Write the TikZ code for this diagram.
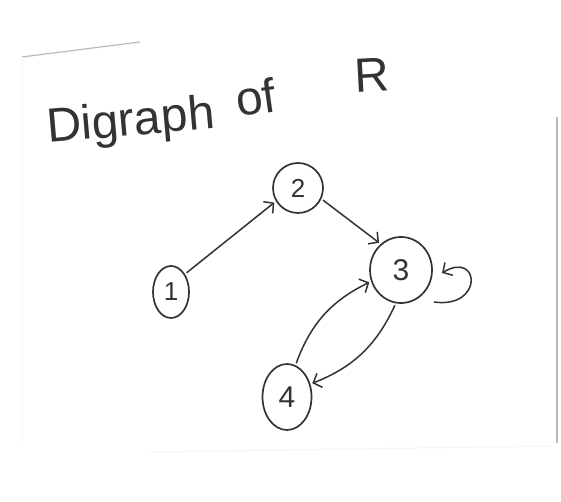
\documentclass[tikz,border=0pt]{standalone}
\usepackage{fontspec}
\setmainfont{Liberation Sans}
\usetikzlibrary{shapes.geometric,arrows.meta}
\definecolor{pencil}{HTML}{333333}
\tikzset{
  vert/.style={draw=pencil, line width=1.7pt, ellipse, inner sep=0pt, text=pencil,
    font=\fontsize{26}{26}\selectfont},
  arc/.style={draw=pencil, line width=1.5pt, shorten <=2pt, shorten >=2pt,
    -{Straight Barb[length=7pt,width=15pt,line width=1.5pt]}},
  title/.style={text=pencil, inner sep=0pt, anchor=base west,
    font=\fontsize{48}{48}\selectfont},
  paperedge/.style={draw=gray!55, line width=1.2pt}
}
\begin{document}
\begin{tikzpicture}[x=1pt,y=1pt]
\useasboundingbox (0,0) rectangle (561,502);
\fill[white] (0,0) rectangle (561,502);
% paper edges
\draw[paperedge] (22,445) -- (140,460);
\draw[draw=gray!8, line width=1pt] (22,445) -- (22,60);
\draw[paperedge, line width=1.6pt] (557,385) -- (557,59);
\draw[draw=gray!8, line width=1pt] (150,50) -- (552,56);
% title
\node[title, rotate=5] (t1) at (48,359) {Digraph};
\node[title, rotate=8] (t2) at (238,385) {of};
\node[title, rotate=3] (t3) at (355,409) {R};
% vertices
\node[vert, minimum width=36pt, minimum height=52pt] (n1) at (171,210) {1};
\node[vert, minimum width=50pt, minimum height=50pt] (n2) at (298,314) {2};
\node[vert, minimum width=62pt, minimum height=66pt, font=\fontsize{30}{30}\selectfont] (n3) at (401,232) {3};
\node[vert, minimum width=49pt, minimum height=66pt, font=\fontsize{30}{30}\selectfont] (n4) at (287,105) {4};
% arcs
\draw[arc] (n1.52) -- (n2.211);
\draw[arc] (n2.-25) -- (n3.128);
\draw[arc] (n4.75) to[bend left=22] (n3.201);
\draw[arc] (n3.261) to[bend left=22] (n4.29);
% self loop on 3
\coordinate (la) at (434,200);
\coordinate (lb) at (442,229);
\draw[arc, shorten <=0pt, shorten >=0pt] (la) .. controls (484,193) and (480,252) .. (lb);
\end{tikzpicture}
\end{document}
